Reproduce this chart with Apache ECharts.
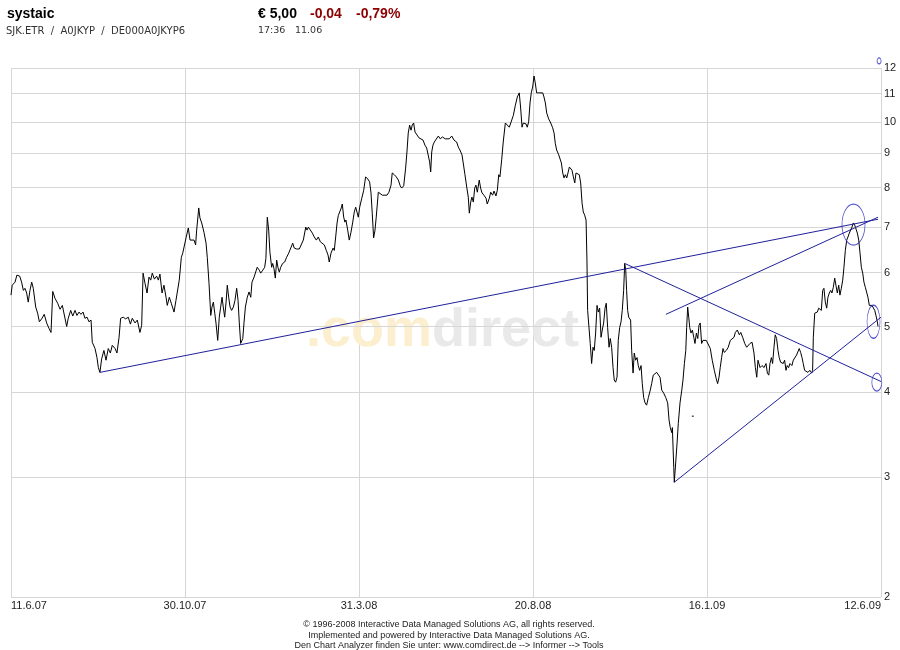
<!DOCTYPE html>
<html><head><meta charset="utf-8">
<script src="https://cdn.jsdelivr.net/npm/echarts@6/dist/echarts.min.js"></script>
<style>html,body{margin:0;padding:0;background:#fff}#c{width:900px;height:650px}</style>
</head><body><div id="c"></div>
<script>
// x axis: trading-day index (0..500), labelled every 100 days
const tickLabels = ['11.6.07','30.10.07','31.3.08','20.8.08','16.1.09','12.6.09'];
const priceTicks = [2,3,4,5,6,7,8,9,10,11,12];

const dayIndex = [0,0.7,2.3,3.4,5.0,6.1,7.1,8.0,9.0,9.9,10.9,11.9,12.8,14.2,15.3,16.3,17.6,19.1,20.5,21.8,23.0,24.0,25.3,26.8,28.2,29.5,30.6,32.0,32.9,34.3,35.5,36.8,37.9,39.1,40.2,41.4,42.5,43.7,44.8,46.0,46.7,48.3,49.4,50.2,51.1,52.1,53.4,54.6,55.9,57.1,58.2,59.8,60.9,62.1,63.0,64.5,65.9,67.4,68.6,69.7,71.3,72.6,74.1,75.1,75.9,77.0,78.2,79.3,80.3,81.2,82.4,83.7,84.7,85.6,86.8,87.9,89.1,89.8,91.0,92.1,93.7,94.8,95.6,96.7,97.9,98.7,99.4,100.6,101.9,102.9,104.0,105.2,106.1,106.7,107.9,108.6,109.6,110.9,112.1,112.8,113.8,114.8,115.5,116.3,117.1,117.8,118.8,119.7,120.5,121.3,122.0,122.8,123.6,124.3,125.1,125.9,126.8,127.8,128.7,129.7,130.5,131.2,132.0,133.2,133.9,134.7,135.8,136.8,137.8,138.5,139.7,140.8,141.5,142.7,143.5,144.7,145.8,146.5,147.3,148.1,148.8,149.8,150.4,151.1,151.9,152.7,153.4,154.2,155.0,156.1,157.3,158.4,159.6,160.7,161.9,162.8,164.2,165.7,166.7,168.0,169.4,170.1,170.9,172.0,173.2,174.3,175.5,176.6,177.8,178.9,180.1,181.2,182.2,182.9,183.9,185.1,185.8,186.6,187.4,188.1,189.1,189.8,190.4,191.2,191.9,192.5,193.5,194.4,195.4,196.4,197.3,198.1,198.8,199.6,200.4,201.6,202.7,203.8,205.0,206.1,206.9,207.6,208.4,209.2,209.9,211.1,212.2,213.4,214.5,216.1,217.2,218.4,219.1,220.3,221.4,222.6,223.7,224.5,225.7,226.8,227.6,228.3,229.1,229.9,230.6,231.4,232.2,233.3,234.5,235.6,236.8,237.9,238.9,239.8,240.6,241.2,241.8,242.5,243.3,244.4,245.6,246.7,247.9,249.6,250.7,251.9,253.3,254.6,256.1,257.1,258.0,259.2,259.9,260.9,261.9,262.8,263.4,264.2,264.9,265.7,266.5,267.2,268.0,269.1,269.9,270.7,271.8,273.0,273.7,274.9,275.7,276.8,277.6,278.7,279.5,280.3,281.0,282.0,282.9,284.1,285.2,286.4,287.5,288.7,289.8,291.0,292.1,292.9,293.7,294.4,295.2,296.0,296.7,297.5,298.3,299.0,299.8,300.6,301.3,302.1,303.3,304.4,305.6,306.3,307.1,307.9,309.0,310.2,311.3,312.1,312.8,313.6,314.8,315.5,316.3,317.1,317.8,318.6,319.4,320.1,320.9,321.7,322.4,323.2,324.0,324.7,325.5,326.6,327.4,328.2,328.9,329.7,330.5,331.0,331.4,332.2,332.9,333.7,334.5,335.2,336.0,336.8,337.5,338.3,339.1,339.8,340.6,341.4,342.1,342.9,343.7,344.4,345.2,346.0,346.7,347.5,348.3,349.0,349.8,350.6,351.3,352.1,352.7,353.3,353.8,354.4,355.0,355.6,356.1,356.7,357.5,358.2,359.0,359.8,360.5,361.3,362.1,362.8,363.6,364.4,365.3,366.3,367.4,368.2,369.1,370.1,371.1,372.0,373.0,374.0,375.1,376.3,377.4,378.2,378.9,379.7,380.1,380.9,381.2,382.0,382.8,383.5,384.5,385.5,386.2,387.0,387.8,388.3,388.9,389.5,390.1,390.8,391.6,392.4,393.1,393.9,394.7,395.4,396.1,396.9,397.7,398.4,399.6,400.7,401.9,403.0,404.2,405.3,406.1,406.9,407.6,408.4,409.2,409.9,411.1,412.2,413.4,414.2,415.5,416.3,417.4,418.6,419.4,420.5,421.7,422.8,423.7,424.7,425.9,427.0,427.8,428.6,429.3,430.5,431.6,432.8,433.9,434.7,435.5,436.2,437.0,437.7,438.5,439.2,440.0,440.8,441.5,442.3,443.1,443.8,444.6,445.4,446.1,446.9,447.7,448.8,449.6,450.7,451.5,452.3,453.0,453.8,454.6,455.3,456.1,456.9,458.0,459.1,460.2,460.7,461.1,461.9,462.6,463.4,464.2,464.9,465.7,466.5,467.2,468.0,468.8,469.5,470.3,471.1,471.8,472.6,473.4,474.1,474.9,475.7,476.4,477.2,478.0,478.7,479.5,480.3,481.0,481.8,482.6,483.3,484.1,484.9,485.6,486.4,487.2,487.9,488.7,489.5,490.2,491.0,491.8,492.5,493.3,494.1,494.8,495.6,496.4,497.1,497.9,498.3];

const closePrice = [5.56,5.75,5.81,5.95,5.93,5.81,5.65,5.69,5.60,5.43,5.65,5.81,5.69,5.34,5.23,5.08,5.13,5.21,5.06,4.97,4.90,5.63,5.50,5.41,5.30,5.37,5.39,5.00,5.14,5.28,5.18,5.28,5.19,5.25,5.21,5.25,5.14,5.16,5.08,5.11,4.74,4.64,4.50,4.35,4.28,4.48,4.61,4.46,4.64,4.57,4.69,4.64,4.57,4.82,5.14,5.16,5.13,5.16,5.04,5.14,5.06,5.11,4.90,5.02,5.99,5.79,5.60,5.91,5.85,5.99,5.87,5.93,5.85,5.97,5.60,5.75,5.52,5.37,5.52,5.41,5.25,5.46,5.43,5.85,6.32,6.41,6.37,6.75,6.98,6.70,6.66,6.70,6.59,6.93,7.47,7.22,7.10,6.88,6.63,6.32,5.79,5.19,5.34,5.43,5.23,5.06,4.77,5.16,5.34,5.52,5.34,5.16,5.43,5.75,5.52,5.34,5.28,5.34,5.46,5.69,5.46,5.06,4.72,4.80,5.06,5.34,5.52,5.62,5.52,5.81,5.91,5.91,6.11,6.05,5.99,6.05,6.11,6.30,7.24,6.93,6.43,6.11,6.19,6.09,5.89,6.26,6.11,6.01,6.11,6.19,6.22,6.32,6.41,6.43,6.63,6.52,6.50,6.50,6.47,6.70,7.00,6.93,7.00,7.00,6.86,6.77,6.70,6.77,6.66,6.70,6.59,6.47,6.37,6.22,6.41,6.52,6.47,6.77,7.10,7.28,7.26,7.47,7.57,7.24,7.12,7.17,6.93,6.70,6.88,7.12,7.37,7.49,7.47,7.24,7.49,7.72,7.93,8.30,8.24,8.16,7.86,7.34,6.75,6.93,7.24,7.88,7.91,7.80,7.80,7.80,7.88,8.07,8.41,8.36,8.30,8.21,8.05,7.99,8.05,8.55,9.06,9.63,9.89,9.72,9.89,9.96,9.66,9.63,9.47,9.50,9.40,9.24,9.15,9.18,8.73,8.44,9.03,9.24,9.34,9.40,9.53,9.44,9.50,9.44,9.50,9.44,9.53,9.40,9.34,9.18,9.09,8.94,8.70,8.36,8.02,7.75,7.34,7.62,7.75,7.62,7.99,8.07,7.88,8.21,7.99,7.86,7.80,7.72,7.57,7.72,7.88,7.80,7.91,7.78,7.93,8.36,8.30,8.79,9.34,9.96,9.96,9.82,9.86,10.22,10.56,10.88,11.03,10.48,9.82,9.96,9.96,9.93,9.82,10.00,10.66,11.03,11.25,11.68,11.41,11.03,11.03,10.96,11.03,10.88,10.66,10.30,10.10,9.96,9.80,9.63,9.30,9.09,8.94,8.88,8.70,8.41,8.27,8.36,8.27,8.41,8.58,8.58,8.49,8.30,8.13,8.41,8.41,8.36,8.13,7.59,7.37,7.29,7.17,6.26,5.28,5.25,4.72,4.41,4.66,4.61,4.89,5.37,5.25,5.32,4.82,4.94,5.06,5.32,5.41,4.98,4.66,4.80,4.66,4.35,4.17,4.14,4.21,4.77,4.98,5.08,5.28,5.65,6.19,6.05,5.65,5.28,5.16,5.19,5.11,4.61,4.27,4.57,4.46,4.50,4.38,4.31,4.38,4.12,3.93,3.86,3.83,3.93,4.03,4.12,4.24,4.24,4.28,4.28,4.21,4.03,3.99,3.93,3.86,3.64,3.55,3.49,3.55,3.10,2.95,3.15,3.37,3.60,3.86,4.03,4.17,4.41,4.61,4.98,5.34,5.16,4.98,4.89,4.94,4.82,4.72,4.89,4.80,5.02,5.06,4.72,4.77,4.80,4.77,4.74,4.64,4.46,4.31,4.19,4.12,4.21,4.35,4.50,4.64,4.58,4.61,4.66,4.77,4.74,4.82,4.90,4.94,4.86,4.90,4.82,4.72,4.66,4.63,4.72,4.74,4.57,4.35,4.21,4.46,4.35,4.38,4.35,4.41,4.27,4.24,4.41,4.50,4.41,4.66,4.86,4.80,4.61,4.50,4.43,4.46,4.41,4.46,4.31,4.38,4.35,4.41,4.38,4.46,4.43,4.54,4.57,4.64,4.58,4.50,4.41,4.31,4.31,4.28,4.31,4.27,4.31,4.82,5.23,5.25,5.25,5.32,5.34,5.28,5.65,5.69,5.43,5.32,5.52,5.60,5.65,5.60,5.71,5.89,5.75,5.60,5.75,5.56,5.69,5.85,6.11,6.47,6.70,6.77,6.86,6.86,7.00,7.10,7.05,7.05,6.86,6.70,6.43,6.11,5.99,5.81,5.71,5.71,5.52,5.37,5.34,5.37,5.34,5.28,5.19,5.08,5.00];

// hand-drawn analysis lines (start/end in index, price)
const trendA = [[51.1, 4.28], [498.3, 7.19]];
const trendB = [[352.7, 6.19], [500, 4.15]];
const trendC = [[376.4, 5.21], [498.3, 7.24]];
const trendD = [[381.2, 2.95], [500, 5.16]];
const circleCenters = [[484.2, 7.06], [495.7, 5.08], [497.6, 4.14], [498.9, 12.29]];
const strayMark = [[391.3, 3.69], [392.4, 3.69]];

const ellipseSizes = [[23, 41], [13, 33], [10, 18], [4, 6]];
const chart = echarts.init(document.getElementById('c'), null, {renderer: 'canvas'});
const priceData = dayIndex.map((d, i) => [d, closePrice[i]]);
const lineBlue = '#20209c';
const trend = (name, d) => ({type: 'line', name, data: d, z: 4, symbol: 'none', silent: true,
  lineStyle: {color: lineBlue, width: 1}, animation: false});

chart.setOption({
  animation: false,
  backgroundColor: '#ffffff',
  grid: {left: 11, right: 19, top: 68, bottom: 53, containLabel: false},
  xAxis: {
    type: 'value', min: 0, max: 500, interval: 100,
    axisLine: {show: false}, axisTick: {show: false},
    splitLine: {show: true, lineStyle: {color: '#d6d6d6', width: 1}},
    axisLabel: {
      margin: 3, color: '#222', fontSize: 11, fontFamily: '"Liberation Sans", Arial, sans-serif',
      formatter: v => tickLabels[Math.round(v / 100)] || '',
      alignMinLabel: 'left', alignMaxLabel: 'right', showMinLabel: true, showMaxLabel: true
    }
  },
  yAxis: {
    type: 'log', logBase: 10, min: 2, max: 12, position: 'right',
    axisLine: {show: false}, axisTick: {show: false}, axisLabel: {show: false},
    splitLine: {show: false}
  },
  graphic: [
    {type: 'text', x: 306, y: 304, z: 1, silent: true, style: {
      text: '{a|.com}{b|direct}', fill: '#eee',
      rich: {
        a: {fill: '#fcefd0', font: 'bold 54px "Liberation Sans", Arial, sans-serif'},
        b: {fill: '#e9e9e9', font: 'bold 54px "Liberation Sans", Arial, sans-serif'}
      }}},
    {type: 'text', x: 7, y: 7, style: {text: 'systaic', fill: '#000', font: 'bold 14px "Liberation Sans", Arial, sans-serif'}},
    {type: 'text', x: 6, y: 26, style: {text: 'SJK.ETR  /  A0JKYP  /  DE000A0JKYP6', fill: '#333', font: '10px "DejaVu Sans", Verdana, sans-serif'}},
    {type: 'text', x: 258, y: 7, style: {text: '€ 5,00', fill: '#000', font: 'bold 14px "Liberation Sans", Arial, sans-serif'}},
    {type: 'text', x: 310, y: 7, style: {text: '-0,04', fill: '#8b0000', font: 'bold 14px "Liberation Sans", Arial, sans-serif'}},
    {type: 'text', x: 356, y: 7, style: {text: '-0,79%', fill: '#8b0000', font: 'bold 14px "Liberation Sans", Arial, sans-serif'}},
    {type: 'text', x: 258, y: 26, style: {text: '17:36', fill: '#333', font: '9.5px "DejaVu Sans", Verdana, sans-serif'}},
    {type: 'text', x: 295, y: 26, style: {text: '11.06', fill: '#333', font: '9.5px "DejaVu Sans", Verdana, sans-serif'}},
    {type: 'text', x: 449, y: 619, style: {
      text: '© 1996-2008 Interactive Data Managed Solutions AG, all rights reserved.\nImplemented and powered by Interactive Data Managed Solutions AG.\nDen Chart Analyzer finden Sie unter: www.comdirect.de --> Informer --> Tools',
      align: 'center', lineHeight: 10.7, fill: '#222', font: '9px "Liberation Sans", Arial, sans-serif'}}
  ],
  series: [
    {
      type: 'line', name: 'systaic', data: priceData, z: 3, symbol: 'none', silent: true,
      lineStyle: {color: '#000', width: 1},
      markLine: {
        silent: true, symbol: 'none', z: 1, animation: false,
        lineStyle: {color: '#d6d6d6', width: 1, type: 'solid'},
        label: {position: 'end', distance: 3, color: '#222', fontSize: 11,
          fontFamily: '"Liberation Sans", Arial, sans-serif', formatter: p => String(p.value)},
        emphasis: {disabled: true},
        data: priceTicks.map(v => ({yAxis: v}))
      }
    },
    trend('A', trendA), trend('B', trendB), trend('C', trendC), trend('D', trendD),
    {type: 'line', name: 'mark', data: strayMark, z: 4, symbol: 'none', silent: true,
      lineStyle: {color: '#000', width: 1}},
    {type: 'scatter', name: 'circles', data: circleCenters, z: 5, silent: true, clip: false,
      symbol: 'circle', symbolSize: (v, p) => ellipseSizes[p.dataIndex],
      itemStyle: {color: 'rgba(0,0,0,0)', borderColor: '#2a2ac0', borderWidth: 1}}
  ]
});
</script>
</body></html>
